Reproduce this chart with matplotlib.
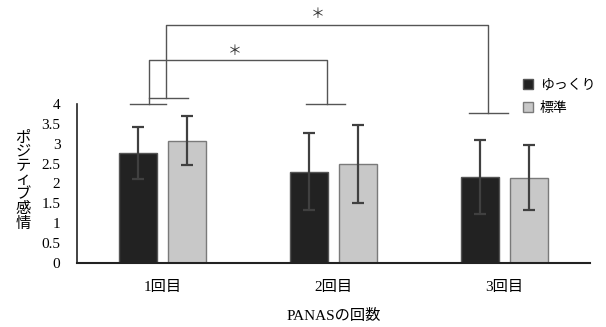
import numpy as np
import matplotlib.pyplot as plt

plt.rcParams['font.family'] = ['Liberation Serif', 'Noto Sans CJK JP']

# データ
categories = ['1回目', '2回目', '3回目']
series_names = ['ゆっくり', '標準']
slow_mean = [2.76, 2.30, 2.17]
slow_err = [0.65, 0.97, 0.93]
std_mean = [3.08, 2.50, 2.15]
std_err = [0.61, 0.98, 0.82]
yticks = [0, 0.5, 1, 1.5, 2, 2.5, 3, 3.5, 4]
ytick_labels = ['0', '0.5', '1', '1.5', '2', '2.5', '3', '3.5', '4']

fig = plt.figure(figsize=(6.06, 3.27), dpi=100)
ax = fig.add_axes([77 / 606, 64 / 327, 513 / 606, 159 / 327])

x = np.arange(len(categories))
w = 0.225
off = 0.143
err_kw = dict(ecolor='#404040', elinewidth=1.6, capsize=4, capthick=1.6)
ax.bar(x - off, slow_mean, w, yerr=slow_err, color='#222222', edgecolor='#555555',
       linewidth=1, label=series_names[0], error_kw=err_kw)
ax.bar(x + off, std_mean, w, yerr=std_err, color='#c8c8c8', edgecolor='#7a7a7a',
       linewidth=1, label=series_names[1], error_kw=err_kw)

ax.set_xlim(-0.5, 2.5)
ax.set_ylim(0, 4)
ax.set_yticks(yticks)
ax.set_yticklabels(ytick_labels)
ax.set_xticks(x)
ax.set_xticklabels(categories)
ax.tick_params(axis='both', length=0, labelsize=11)
ax.tick_params(axis='x', pad=13)
ax.tick_params(axis='y', pad=12)
for s in ['top', 'right']:
    ax.spines[s].set_visible(False)
ax.spines['left'].set_linewidth(1.2)
ax.spines['bottom'].set_linewidth(1.5)
ax.spines['left'].set_color('#222222')
ax.spines['bottom'].set_color('#222222')

ax.set_xlabel('PANASの回数', fontsize=11, labelpad=11)
fig.text(23 / 606, 1 - 181 / 327, '\n'.join('ポジティブ感情'), ha='center', va='center',
         fontsize=11, linespacing=1.1)

# 有意差の括弧
lc = '#555555'
def bracket(x1, x2, y1, y2, ytop, h1, h2, star_x, star_y):
    kw = dict(color=lc, lw=1, clip_on=False)
    ax.plot([x1, x1, x2, x2], [y1, ytop, ytop, y2], **kw)
    ax.plot(h1, [y1, y1], **kw)
    ax.plot(h2, [y2, y2], **kw)
    ax.text(star_x, star_y, '＊', ha='center', va='center', fontsize=10,
            family='Noto Sans CJK JP', color='#333333', clip_on=False)

bracket(x[0] - 0.08, x[1] - 0.04, 3.99, 3.99, 5.10,
        [x[0] - 0.19, x[0] + 0.02], [x[1] - 0.16, x[1] + 0.07], x[0] + 0.42, 5.33)
bracket(x[0] + 0.02, x[2] - 0.094, 4.16, 3.78, 5.99,
        [x[0] - 0.08, x[0] + 0.15], [x[2] - 0.205, x[2] + 0.02], x[0] + 0.91, 6.26)

ax.legend(loc='upper left', bbox_to_anchor=((523 - 77) / 513, 1.16), frameon=False,
          borderpad=0, borderaxespad=0,
          handlelength=0.7, handleheight=0.7, handletextpad=0.5, labelspacing=0.75,
          fontsize=10)

fig.savefig('out.png', dpi=100)
